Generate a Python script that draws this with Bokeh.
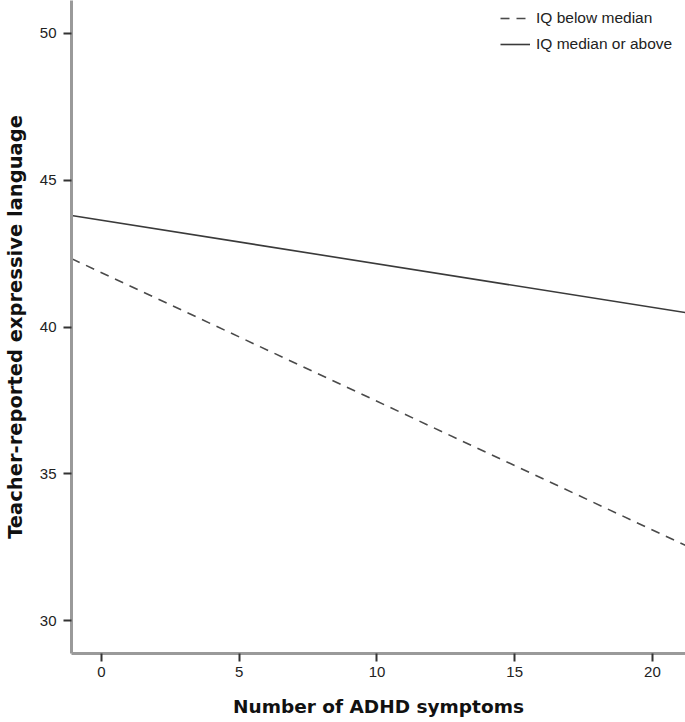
from bokeh.plotting import figure
from bokeh.models import Legend, LegendItem
from bokeh.embed import file_html
from bokeh.resources import INLINE

# Data (fitted lines)
x_vals = [-1.09, 21.2]
iq_below = [42.33, 32.56]
iq_above = [43.80, 40.49]
x_ticks = [0, 5, 10, 15, 20]
y_ticks = [30, 35, 40, 45, 50]

p = figure(width=685, height=722, x_range=(-1.09, 21.2), y_range=(28.876, 51.124),
           output_backend="svg", toolbar_location=None,
           min_border_left=71, min_border_right=0, min_border_top=0, min_border_bottom=69)
p.outline_line_color = None
p.grid.visible = False
p.background_fill_color = "white"

r1 = p.line(x_vals, iq_below, line_color="#4a4a4a", line_width=1.6, line_dash="9 7")
r2 = p.line(x_vals, iq_above, line_color="#3a3a3a", line_width=1.6)

for ax in (p.xaxis[0], p.yaxis[0]):
    ax.axis_line_color = "#9a9a9a"
    ax.axis_line_width = 3
    ax.major_tick_line_color = "#333333"
    ax.major_tick_line_width = 2
    ax.major_tick_out = 8
    ax.major_tick_in = 0
    ax.minor_tick_line_color = None
    ax.major_label_text_font = "Liberation Sans"
    ax.major_label_text_font_size = "15px"
    ax.major_label_text_color = "#222222"
    ax.axis_label_text_font = "DejaVu Sans"
    ax.axis_label_text_font_style = "bold"
    ax.axis_label_text_color = "#111111"

p.xaxis.axis_label_text_font_size = "18.5px"
p.yaxis.axis_label_text_font_size = "19.5px"
p.xaxis.ticker = x_ticks
p.yaxis.ticker = y_ticks
p.xaxis.axis_label = "Number of ADHD symptoms"
p.yaxis.axis_label = "Teacher-reported expressive language"
p.xaxis.major_label_standoff = 5
p.yaxis.major_label_standoff = 7
p.xaxis.axis_label_standoff = 16
p.yaxis.axis_label_standoff = 10

legend = Legend(items=[LegendItem(label="IQ below median", renderers=[r1]),
                       LegendItem(label="IQ median or above", renderers=[r2])],
                location="top_right")
legend.border_line_color = None
legend.background_fill_alpha = 0
legend.label_text_font = "Liberation Sans"
legend.label_text_font_size = "15.5px"
legend.label_text_color = "#222222"
legend.glyph_width = 30
legend.spacing = 6
legend.padding = 2
legend.margin = 8
legend.label_width = 141
legend.label_standoff = 6
p.add_layout(legend)

open("out.html", "w").write(file_html(p, INLINE))
